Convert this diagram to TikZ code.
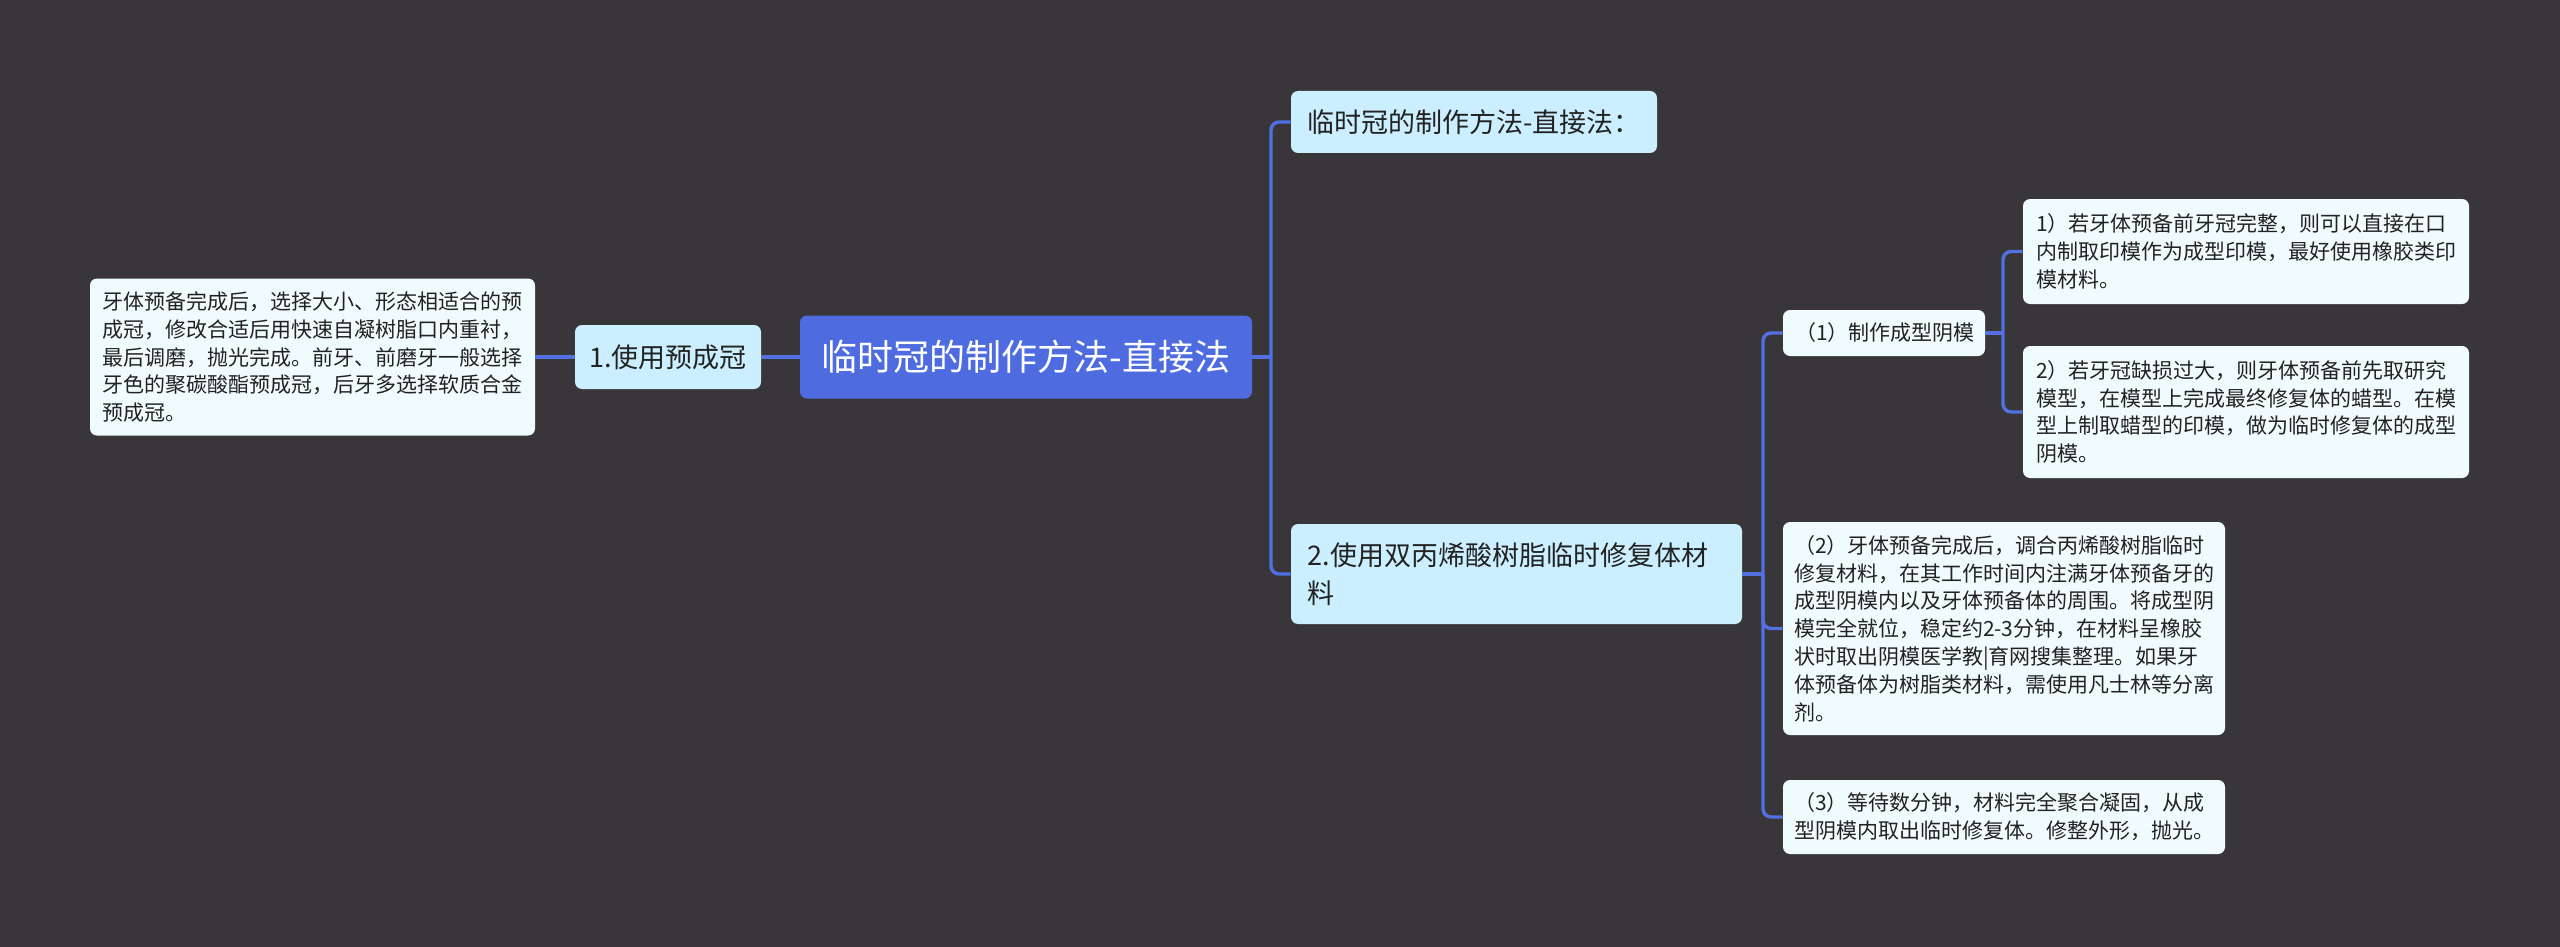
\documentclass[tikz,border=0pt]{standalone}
\usepackage{fontspec}
\setmainfont{Noto Sans CJK SC}
\definecolor{bg}{RGB}{56,54,56}
\definecolor{rootblue}{RGB}{78,108,224}
\definecolor{linkblue}{RGB}{82,112,226}
\definecolor{midfill}{RGB}{204,239,255}
\definecolor{leaffill}{RGB}{240,251,253}
\definecolor{ink}{RGB}{34,34,34}
\begin{document}
\begin{tikzpicture}[x=0.5pt, y=-0.5pt,
  box/.style={rounded corners=3.5pt, inner sep=0pt, text=ink},
  topic/.style={box, fill=midfill, font=\fontsize{13.5}{18.8}\selectfont},
  leaf/.style={box, fill=leaffill, font=\fontsize{10.5}{13.9}\selectfont, align=left, text width=210pt, minimum width=222pt},
  link/.style={draw=linkblue, line width=1.7pt}]

\fill[bg] (0,0) rectangle (2560,947);

\node[box, fill=rootblue, text=white, font=\fontsize{18}{22}\selectfont, minimum width=226pt, minimum height=41.5pt] (root) at (1026,357) {临时冠的制作方法-直接法};

\node[topic, minimum width=93pt, minimum height=32pt] (pre) at (668,357) {1.使用预成冠};
\node[leaf, minimum width=222.5pt, minimum height=78.5pt] (preleaf) at (312.5,357) {牙体预备完成后，选择大小、形态相适合的预\\成冠，修改合适后用快速自凝树脂口内重衬，\\最后调磨，抛光完成。前牙、前磨牙一般选择\\牙色的聚碳酸酯预成冠，后牙多选择软质合金\\预成冠。};

\node[topic, minimum width=183pt, minimum height=31pt] (direct) at (1474,122) {临时冠的制作方法-直接法：};
\node[topic, align=left, text width=209pt, minimum width=225.5pt, minimum height=50pt] (resin) at (1516.5,574) {2.使用双丙烯酸树脂临时修复体材\\料};

\node[leaf, text width=89pt, minimum width=101pt, minimum height=23pt] (mold) at (1884,333) {（1）制作成型阴模};
\node[leaf, minimum width=223pt, minimum height=52.5pt] (molda) at (2246,251.5) {1）若牙体预备前牙冠完整，则可以直接在口\\内制取印模作为成型印模，最好使用橡胶类印\\模材料。};
\node[leaf, minimum width=223pt, minimum height=66pt] (moldb) at (2246,412) {2）若牙冠缺损过大，则牙体预备前先取研究\\模型，在模型上完成最终修复体的蜡型。在模\\型上制取蜡型的印模，做为临时修复体的成型\\阴模。};
\node[leaf, minimum width=221pt, minimum height=106.5pt] (fill) at (2004,628.5) {（2）牙体预备完成后，调合丙烯酸树脂临时\\修复材料，在其工作时间内注满牙体预备牙的\\成型阴模内以及牙体预备体的周围。将成型阴\\模完全就位，稳定约2-3分钟，在材料呈橡胶\\状时取出阴模医学教|育网搜集整理。如果牙\\体预备体为树脂类材料，需使用凡士林等分离\\剂。};
\node[leaf, minimum width=221pt, minimum height=37pt] (cure) at (2004,817) {（3）等待数分钟，材料完全聚合凝固，从成\\型阴模内取出临时修复体。修整外形，抛光。};

\coordinate (j1) at (1271,357);
\coordinate (j2) at (1763,574);
\coordinate (j3) at (2003,333);

\begin{scope}[link]
\draw (preleaf.east) -- (pre.west);
\draw (pre.east) -- (root.west);
\draw (root.east) -- (j1);
\draw (resin.east) -- (j2);
\draw (mold.east) -- (j3);
\end{scope}

\begin{scope}[link, rounded corners=4pt]
\draw (j1) |- (direct.west);
\draw (j1) |- (resin.west);
\draw (j2) |- (mold.west);
\draw (j2) |- (fill.west);
\draw (j2) |- (cure.west);
\draw (j3) |- (molda.west);
\draw (j3) |- (moldb.west);
\end{scope}

\end{tikzpicture}
\end{document}
